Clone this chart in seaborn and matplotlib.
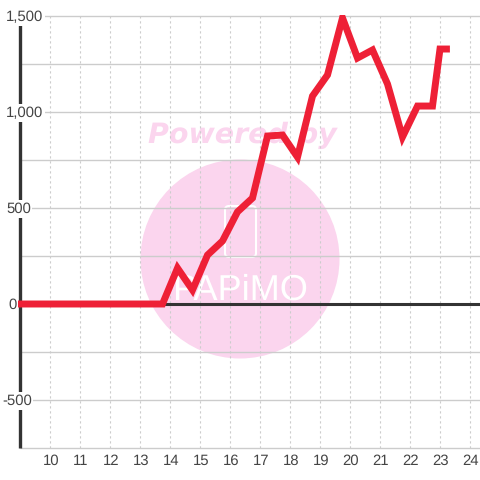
#!/usr/bin/env python3
import matplotlib
matplotlib.use('Agg')
import matplotlib.pyplot as plt
import matplotlib.transforms as mtrans
import seaborn as sns
import pandas as pd
from matplotlib.patches import Circle, FancyBboxPatch

hours = [8.9, 9.25, 9.75, 10.25, 10.75, 11.25, 11.75, 12.25, 12.75, 13.25, 13.75,
         14.25, 14.75, 15.25, 15.75, 16.25, 16.75, 17.25, 17.75, 18.25, 18.75,
         19.25, 19.75, 20.25, 20.75, 21.25, 21.75, 22.25, 22.75, 23.0, 23.33]
prices = [0, 0, 0, 0, 0, 0, 0, 0, 0, 0, 0,
          187, 73, 255, 328, 480, 552, 875, 880, 765, 1083,
          1193, 1490, 1281, 1323, 1146, 870, 1031, 1031, 1328, 1328]
x_ticks = list(range(10, 25))
y_major = [-500, 0, 500, 1000, 1500]
y_minor = [-750, -250, 250, 750, 1250]
y_labels = ['-500', '0', '500', '1,000', '1,500']
label_left_px = [2, 8, 6, 6, 6]

RED = '#EE2036'
DARK = '#333333'
GRID = '#CCCCCC'
PINK = '#FBD5EE'

sns.set_theme(style='white')
plt.rcParams['font.family'] = ['Liberation Sans', 'DejaVu Sans']
plt.rcParams['text.hinting'] = 'none'

W = 480
fig = plt.figure(figsize=(4.8, 4.8), dpi=100, facecolor='white')

# axes box in pixels: left 17, right 480, top 15, bottom 448
ax = fig.add_axes([17 / W, (W - 448) / W, (W - 17) / W, 433 / W])
ax.set_xlim(10 + (17 - 50) / 30, 10 + (W - 50) / 30)
ax.set_ylim((304 - 448) / 96 * 500, (304 - 15) / 96 * 500)
ax.patch.set_alpha(0)
sns.despine(ax=ax, left=True, bottom=True, top=True, right=True)

# watermark underneath everything, in figure pixels
bg = fig.add_axes([0, 0, 1, 1], zorder=-1)
bg.set_xlim(0, W)
bg.set_ylim(W, 0)
bg.axis('off')
bg.add_patch(Circle((240, 259), 99.5, color=PINK, lw=0))
bg.text(242, 135, 'Powered by', ha='center', va='center', color=PINK,
        fontsize=20.5, fontweight='bold', fontstyle='italic', family='DejaVu Sans')
bg.add_patch(FancyBboxPatch((225, 206), 31, 51, boxstyle='round,pad=0,rounding_size=4',
                            fc='none', ec='white', lw=1.5))
bg.text(239.5, 290, 'PAPiMO', ha='center', va='center', color='white', fontsize=26)

ax.vlines(x_ticks, y_minor[0], y_major[-1], color=GRID, lw=0.8, ls=(0, (2, 2.5)), zorder=1)
ax.hlines(y_major + y_minor, 9, ax.get_xlim()[1], color=GRID, lw=1.0, zorder=1, clip_on=False)
ax.axhline(0, xmin=0, color=DARK, lw=2.2, zorder=2)
ax.vlines(9, y_minor[0], y_major[-1], color=DARK, lw=2.4, zorder=2, clip_on=False)

df = pd.DataFrame({'hour': hours, 'price': prices})
sns.lineplot(data=df, x='hour', y='price', ax=ax, color=RED, lw=5, zorder=3,
             solid_joinstyle='miter', solid_capstyle='butt', errorbar=None)
ax.set_xlabel('')
ax.set_ylabel('')

ax.set_xticks(x_ticks)
ax.set_xticklabels([str(t) for t in x_ticks])
ax.set_yticks([])
ax.tick_params(axis='x', length=0, pad=4.5, labelsize=10.7, labelcolor='#444444')
# labels sit 1 px right of their gridline
nudge = mtrans.ScaledTranslation(1 / 100, 0, fig.dpi_scale_trans)
for lbl in ax.get_xticklabels():
    lbl.set_transform(lbl.get_transform() + nudge)

for val, lab, left in zip(y_major, y_labels, label_left_px):
    # 1 px lower than the gridline, white box hides the axis line behind the label
    ax.annotate(lab, xy=(left / W, val), xycoords=('figure fraction', 'data'),
                xytext=(0, -0.7), textcoords='offset points', ha='left', va='center',
                fontsize=10.7, color='#444444', zorder=4, annotation_clip=False,
                bbox=dict(fc='white', ec='none', pad=1.2))

fig.savefig('out.png', dpi=100)
